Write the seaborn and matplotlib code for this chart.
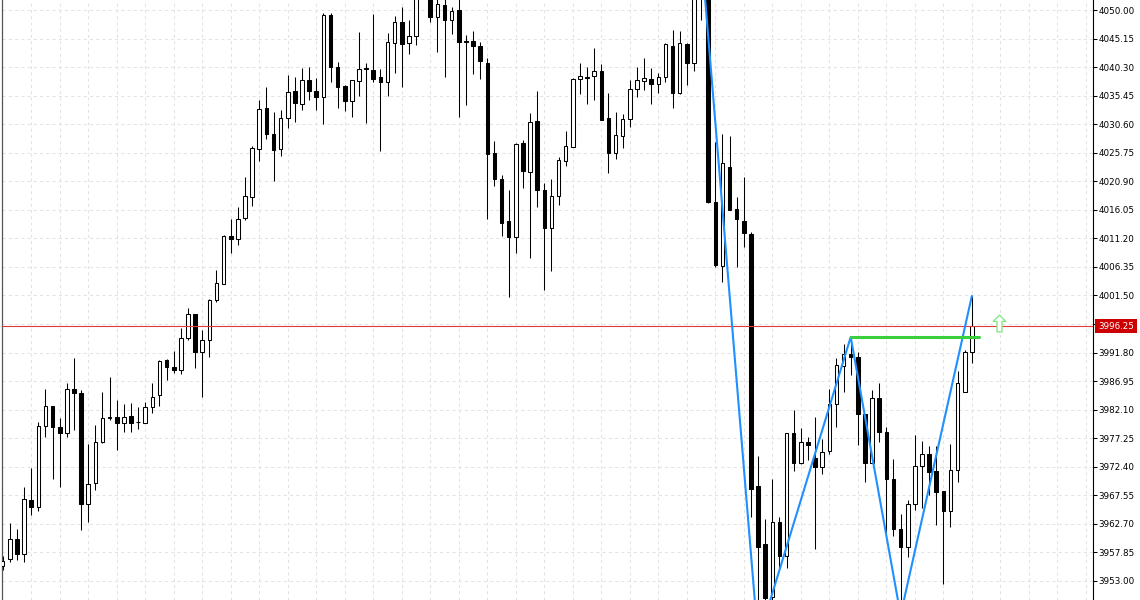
import numpy as np
import pandas as pd
import seaborn as sns
import matplotlib.pyplot as plt
from matplotlib.path import Path

# 봉 데이터 (가격, 그림에서 읽은 값)
opens = [3955.54, 3956.73, 3960.12, 3957.58, 3966.75, 3965.56, 3979.32, 3982.72, 3979.15, 3978.13,
         3985.61, 3984.93, 3966.07, 3969.64, 3976.60, 3980.68, 3980.85, 3979.83, 3981.02, 3980.00,
         3979.83, 3982.55, 3984.59, 3990.54, 3989.35, 3988.84, 3994.27, 3998.35, 3991.90, 3993.93,
         4000.73, 4003.45, 4011.60, 4011.09, 4014.66, 4018.23, 4026.38, 4033.35, 4028.93, 4026.38,
         4031.65, 4036.24, 4034.03, 4038.11, 4036.24, 4035.22, 4049.15, 4040.32, 4037.09, 4034.54,
         4037.94, 4040.10, 4039.81, 4038.62, 4037.77, 4044.39, 4047.96, 4044.39, 4045.58, 4053.74,
         4052.72, 4048.81, 4050.85, 4048.30, 4050.00, 4044.73, 4044.73, 4043.88, 4041.00, 4025.71,
         4021.29, 4014.15, 4011.43, 4027.40, 4022.48, 4031.14, 4019.42, 4012.96, 4018.40, 4024.35,
         4026.72, 4038.28, 4038.45, 4038.79, 4039.64, 4031.65, 4025.71, 4028.59, 4031.48, 4036.58,
         4037.94, 4038.28, 4037.43, 4038.62, 4043.88, 4035.90, 4044.22, 4041.00, 4052.55, 4055.10,
         4017.38, 4006.51, 4023.33, 4016.19, 4014.15, 4011.94, 3969.13, 3959.27, 3950.27, 3963.01,
         3957.24, 3978.13, 3973.04, 3976.60, 3973.89, 3972.36, 3975.08, 3983.06, 3989.52, 3991.56,
         3991.05, 3981.36, 3973.04, 3984.08, 3978.30, 3970.32, 3961.82, 3958.76, 3966.07, 3972.53,
         3974.57, 3971.68, 3968.28, 3964.88, 3971.85, 3985.10, 3991.90]
highs = [3957.24, 3962.84, 3961.82, 3968.96, 3972.19, 3980.00, 3985.61, 3982.72, 3980.68, 3986.63,
         3990.88, 3985.44, 3976.26, 3979.49, 3985.10, 3987.65, 3983.74, 3983.06, 3983.23, 3982.55,
         3983.40, 3986.63, 3990.54, 3990.71, 3992.07, 3995.97, 3999.37, 3998.35, 3995.63, 4000.90,
         4005.83, 4011.77, 4014.49, 4016.53, 4021.63, 4026.89, 4034.71, 4036.92, 4032.67, 4033.01,
         4038.96, 4038.62, 4040.15, 4040.32, 4038.45, 4049.49, 4049.49, 4041.17, 4037.26, 4038.11,
         4046.26, 4041.00, 4049.32, 4039.98, 4046.09, 4048.98, 4050.51, 4048.30, 4053.74, 4058.50,
         4053.74, 4052.04, 4052.04, 4050.51, 4051.87, 4045.75, 4046.43, 4044.56, 4041.85, 4027.74,
         4021.97, 4019.42, 4027.40, 4027.91, 4032.50, 4036.24, 4020.61, 4021.29, 4025.03, 4029.44,
         4038.45, 4041.00, 4040.32, 4043.54, 4040.83, 4035.90, 4032.67, 4032.33, 4038.11, 4040.32,
         4041.85, 4040.15, 4039.30, 4044.39, 4046.60, 4046.43, 4044.39, 4053.40, 4060.20, 4055.44,
         4027.57, 4028.93, 4028.59, 4018.23, 4021.63, 4012.28, 3974.23, 3963.52, 3970.32, 3963.86,
         3978.13, 3982.04, 3978.98, 3977.45, 3980.85, 3977.11, 3985.61, 3990.88, 3993.25, 3994.44,
         3991.90, 3981.36, 3985.44, 3986.63, 3979.15, 3973.72, 3964.37, 3966.75, 3977.79, 3976.77,
         3975.92, 3975.92, 3968.28, 3976.26, 3988.67, 3992.23, 4001.41]
lows = [3954.86, 3956.22, 3956.56, 3956.22, 3964.20, 3964.88, 3977.45, 3970.32, 3968.96, 3977.45,
        3978.64, 3961.65, 3963.01, 3968.45, 3976.43, 3980.34, 3975.24, 3978.30, 3978.30, 3978.81,
        3979.83, 3981.53, 3982.72, 3987.14, 3988.33, 3988.16, 3993.93, 3989.18, 3984.25, 3991.05,
        4000.39, 4003.45, 4008.72, 4010.07, 4014.32, 4016.70, 4024.35, 4028.08, 4020.95, 4025.20,
        4029.95, 4030.97, 4033.01, 4034.71, 4033.01, 4030.63, 4037.77, 4033.35, 4032.84, 4031.82,
        4035.39, 4030.80, 4037.77, 4026.05, 4035.39, 4039.30, 4036.92, 4042.53, 4044.05, 4052.55,
        4047.96, 4042.87, 4038.62, 4045.92, 4031.82, 4033.86, 4039.13, 4038.28, 4014.49, 4020.10,
        4011.60, 4001.24, 4008.72, 4019.76, 4007.87, 4016.53, 4002.43, 4005.66, 4016.87, 4023.50,
        4026.72, 4035.73, 4034.03, 4034.71, 4031.31, 4022.31, 4024.69, 4026.55, 4030.12, 4035.22,
        4036.41, 4034.03, 4035.90, 4037.77, 4033.35, 4035.73, 4037.26, 4039.64, 4048.30, 4017.21,
        4006.34, 4003.79, 4016.02, 4006.34, 4009.73, 3963.86, 3942.97, 3949.08, 3949.42, 3955.20,
        3955.20, 3971.68, 3972.87, 3973.55, 3958.42, 3971.17, 3974.57, 3979.15, 3985.10, 3987.99,
        3976.09, 3969.81, 3973.04, 3976.60, 3961.14, 3960.63, 3947.21, 3957.07, 3965.05, 3965.39,
        3967.60, 3962.50, 3952.48, 3962.16, 3969.81, 3985.10, 3990.03]
closes = [3956.39, 3960.12, 3957.58, 3966.92, 3965.56, 3979.32, 3982.72, 3979.15, 3978.13, 3985.61,
          3984.93, 3966.07, 3969.47, 3976.60, 3980.68, 3980.85, 3979.83, 3980.85, 3979.83, 3980.00,
          3982.55, 3984.25, 3990.37, 3989.35, 3988.84, 3994.27, 3998.35, 3991.90, 3993.93, 4000.73,
          4003.62, 4011.60, 4011.09, 4014.49, 4018.40, 4026.55, 4033.18, 4028.93, 4026.21, 4031.65,
          4036.07, 4034.20, 4038.11, 4036.24, 4035.22, 4049.15, 4040.32, 4036.92, 4034.54, 4038.11,
          4039.98, 4040.00, 4038.28, 4037.77, 4044.56, 4047.96, 4044.22, 4045.58, 4053.06, 4056.80,
          4048.81, 4051.02, 4048.30, 4049.83, 4044.56, 4044.56, 4043.88, 4041.34, 4025.54, 4021.29,
          4013.81, 4011.43, 4027.23, 4022.65, 4030.97, 4019.42, 4012.96, 4018.40, 4024.52, 4026.89,
          4038.28, 4038.79, 4038.62, 4039.64, 4031.31, 4025.71, 4028.76, 4031.48, 4036.58, 4038.11,
          4038.45, 4037.43, 4038.62, 4044.22, 4035.90, 4044.39, 4041.00, 4052.55, 4055.10, 4017.38,
          4006.68, 4024.01, 4016.02, 4014.49, 4012.11, 3968.62, 3958.76, 3950.10, 3963.01, 3957.24,
          3978.13, 3973.04, 3976.60, 3976.09, 3972.36, 3974.91, 3983.06, 3989.69, 3991.56, 3991.05,
          3981.36, 3973.04, 3984.08, 3978.30, 3970.32, 3961.82, 3958.76, 3966.07, 3972.53, 3974.57,
          3971.51, 3968.11, 3964.88, 3971.85, 3986.63, 3991.90, 3996.25]

# 지그재그 꼭짓점 (봉 번호, 고점/저점)
zigzag_bars = [98, 106, 119, 126, 136]
zigzag_kind = ['high', 'low', 'high', 'low', 'high']

# 돌파 라인, 현재가, 신호 화살표
level_bar = 119
level_end = 137
bid_price = 3996.25
arrow_bar = 139.8
arrow_price = 3996.9

# 오른쪽 가격축 눈금
ytick_values = [4050.00, 4045.15, 4040.30, 4035.45, 4030.60, 4025.75, 4020.90, 4016.05, 4011.20,
                4006.35, 4001.50, 3996.65, 3991.80, 3986.95, 3982.10, 3977.25, 3972.40, 3967.55,
                3962.70, 3957.85, 3953.00]
ytick_labels = ['4050.00', '4045.15', '4040.30', '4035.45', '4030.60', '4025.75', '4020.90', '4016.05',
                '4011.20', '4006.35', '4001.50', '', '3991.80', '3986.95', '3982.10', '3977.25',
                '3972.40', '3967.55', '3962.70', '3957.85', '3953.00']

sns.set_theme(style='white')
plt.rcParams['font.family'] = ['DejaVu Sans']

df = pd.DataFrame({'open': opens, 'high': highs, 'low': lows, 'close': closes})
df['bar'] = np.arange(len(df))
up = df['close'] >= df['open']
body_bottom = df[['open', 'close']].min(axis=1)
body_height = (df['close'] - df['open']).abs().clip(lower=0.06)

fig = plt.figure(figsize=(11.4, 6.0), dpi=100)
ax = fig.add_axes([2 / 1140, 0, 1091 / 1140, 1])

# 심지
ax.vlines(df['bar'], df['low'], df['high'], color='black', linewidth=0.75, zorder=2)
# 몸통
ax.bar(df['bar'][up], body_height[up], bottom=body_bottom[up], width=0.5,
       color='white', edgecolor='black', linewidth=0.75, zorder=3)
ax.bar(df['bar'][~up], body_height[~up], bottom=body_bottom[~up], width=0.5,
       color='black', edgecolor='black', linewidth=0.75, zorder=3)

# 지그재그
zz = pd.DataFrame({'bar': zigzag_bars,
                   'price': [df.loc[b, k] for b, k in zip(zigzag_bars, zigzag_kind)]})
sns.lineplot(data=zz, x='bar', y='price', ax=ax, color='#1e90ff', linewidth=1.5, zorder=5)

# 녹색 수평선
lvl = pd.DataFrame({'bar': [level_bar, level_end], 'price': [df.loc[level_bar, 'high']] * 2})
sns.lineplot(data=lvl, x='bar', y='price', ax=ax, color='#3ccf3c', linewidth=2.2, zorder=6)

# 현재가 선
ax.axhline(bid_price, color='#e03a3a', linewidth=0.8, zorder=4)

# 위쪽 화살표
arrow = Path([(0, 1), (0.75, 0.25), (0.3, 0.25), (0.3, -1), (-0.3, -1), (-0.3, 0.25),
              (-0.75, 0.25), (0, 1)],
             [Path.MOVETO] + [Path.LINETO] * 6 + [Path.CLOSEPOLY])
ax.plot([arrow_bar], [arrow_price], marker=arrow, markersize=12, markerfacecolor='white',
        markeredgecolor='#8be58b', markeredgewidth=1.0, linestyle='none', zorder=7, clip_on=False)

ax.set_xlim(-0.1, 153.0)
ax.set_ylim(3949.76, 4051.70)
ax.set_xticks(np.arange(4, 153, 4))
ax.set_xticklabels([])
ax.set_yticks(ytick_values)
ax.set_yticklabels(ytick_labels)
ax.yaxis.tick_right()
ax.tick_params(axis='x', length=0)
ax.tick_params(axis='y', which='both', right=True, left=False, length=3, width=0.75,
               pad=1, labelsize=6.3, colors='black')
ax.grid(True, linestyle=(0, (3, 3)), color='#e3e3e3', linewidth=0.75)
ax.set_axisbelow(True)
ax.set_xlabel('')
ax.set_ylabel('')

for side in ['top', 'bottom']:
    ax.spines[side].set_visible(False)
ax.spines['right'].set_color('black')
ax.spines['right'].set_linewidth(0.8)
ax.spines['left'].set_color('#555555')
ax.spines['left'].set_linewidth(0.9)

# 현재가 라벨
ax.annotate(f'{bid_price:.2f}', xy=(1, bid_price), xycoords=ax.get_yaxis_transform(),
            xytext=(5, 0), textcoords='offset pixels', ha='left', va='center',
            color='white', fontsize=6.3, annotation_clip=False,
            bbox=dict(boxstyle='square,pad=0.3', fc='#cc0000', ec='none'))

plt.savefig('out.png', dpi=100)
plt.close()
